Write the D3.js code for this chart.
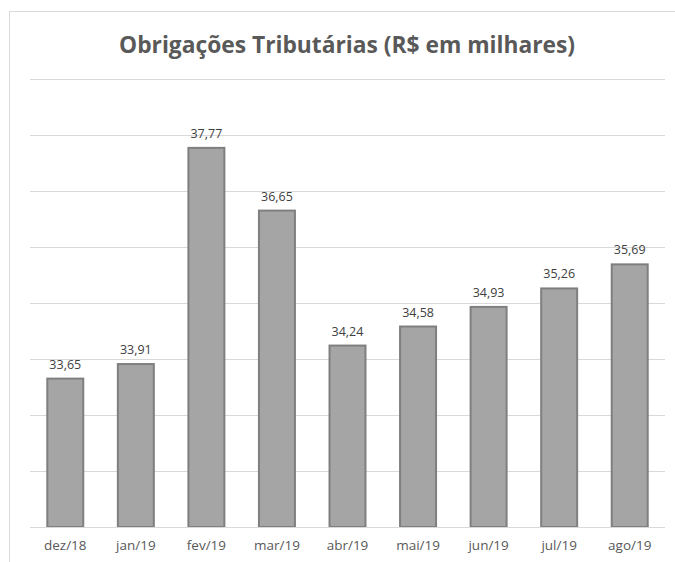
<html>
  <meta charset="utf-8" />
  <script src="https://d3js.org/d3.v7.min.js"></script>
  <style>
    body { margin: 0; background: #fff; }
    text { font-family: "Open Sans", "Liberation Sans", sans-serif; }
  </style>
  <body>
    <svg width="675" height="562" id="chart"></svg>
    <script>
      const months = ["dez/18", "jan/19", "fev/19", "mar/19", "abr/19", "mai/19", "jun/19", "jul/19", "ago/19"];
      const values = [33.65, 33.91, 37.77, 36.65, 34.24, 34.58, 34.93, 35.26, 35.69];
      const yTicks = [31, 32, 33, 34, 35, 36, 37, 38, 39];

      const svg = d3.select("#chart");
      const plotLeft = 30, plotRight = 665, plotTop = 79, plotBottom = 527;

      // chart border
      svg.append("rect")
        .attr("x", 9.5).attr("y", 11.5)
        .attr("width", 700).attr("height", 600)
        .attr("fill", "none").attr("stroke", "#d9d9d9");

      svg.append("text")
        .attr("x", 347).attr("y", 53)
        .attr("text-anchor", "middle")
        .attr("font-size", 24).attr("font-weight", "bold")
        .attr("fill", "#595959")
        .attr("textLength", 456).attr("lengthAdjust", "spacingAndGlyphs")
        .text("Obrigações Tributárias (R$ em milhares)");

      const x = d3.scaleBand().domain(months).range([plotLeft, plotRight]).paddingInner(0.49).paddingOuter(0.245);
      const y = d3.scaleLinear().domain([31, 39]).range([plotBottom, plotTop]);

      // gridlines
      svg.append("g").selectAll("line").data(yTicks).join("line")
        .attr("x1", plotLeft).attr("x2", plotRight)
        .attr("y1", d => Math.round(y(d)) + 0.5).attr("y2", d => Math.round(y(d)) + 0.5)
        .attr("stroke", "#d9d9d9").attr("stroke-width", 1);

      svg.append("g").selectAll("rect").data(values).join("rect")
        .attr("x", (d, i) => x(months[i]))
        .attr("y", d => y(d))
        .attr("width", x.bandwidth())
        .attr("height", d => plotBottom - y(d))
        .attr("fill", "#a5a5a5")
        .attr("stroke", "#7f7f7f").attr("stroke-width", 2);

      // baseline
      svg.append("line")
        .attr("x1", plotLeft).attr("x2", plotRight)
        .attr("y1", plotBottom + 0.5).attr("y2", plotBottom + 0.5)
        .attr("stroke", "#d9d9d9");

      svg.append("g").selectAll("text").data(values).join("text")
        .attr("x", (d, i) => x(months[i]) + x.bandwidth() / 2)
        .attr("y", d => y(d) - 10)
        .attr("text-anchor", "middle")
        .attr("font-size", 12.5).attr("fill", "#404040")
        .text(d => d.toFixed(2).replace(".", ","));

      const xAxis = svg.append("g")
        .attr("transform", `translate(0,${plotBottom})`)
        .call(d3.axisBottom(x).tickSize(0).tickPadding(13));
      xAxis.select(".domain").remove();
      xAxis.selectAll("text")
        .attr("font-size", 13.5).attr("fill", "#595959")
        .attr("font-family", "'Open Sans', sans-serif");
    </script>
  </body>
</html>
